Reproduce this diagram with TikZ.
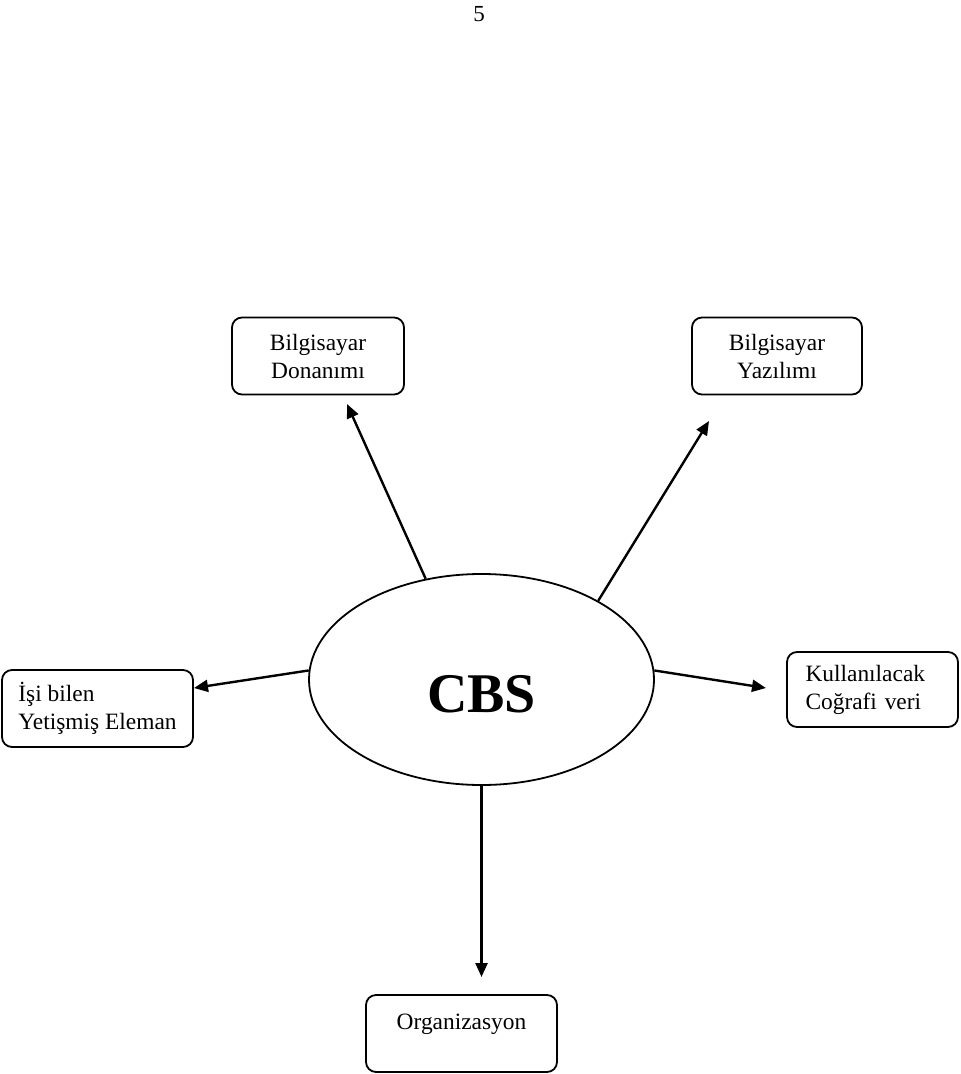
\documentclass[tikz,border=0pt]{standalone}
\usepackage{fontspec}
\setmainfont{Liberation Serif}
\usetikzlibrary{arrows.meta,shapes.geometric}

\begin{document}
\begin{tikzpicture}[x=0.5pt,y=-0.5pt,->,>={Triangle[length=7pt,width=6pt]},line width=1.2pt,
	base box/.style={draw,line width=0.9pt,rounded corners=5pt,minimum height=38.5pt,inner sep=0pt,
		font=\fontsize{11.7}{14}\selectfont,align=center},
	main node/.style={ellipse,draw,line width=0.9pt,minimum width=172.5pt,minimum height=105.5pt,
		inner sep=0pt,font=\fontsize{28}{30}\selectfont\bfseries,text height=33pt,text depth=0pt}]

	\useasboundingbox (0,0) rectangle (960,1074);

	\node[font=\fontsize{11.5}{13}\selectfont] (pnum) at (479,14) {5};

	\node[main node] (cbs) at (481.5,679.5) {CBS};
	\node[base box,minimum width=86pt] (don) at (318,356) {Bilgisayar\\Donanımı};
	\node[base box,minimum width=85pt] (yaz) at (777,356) {Bilgisayar\\Yazılımı};
	\node[base box,align=left,minimum width=95.5pt] (isi) at (97.5,708.5) {İşi bilen\\Yetişmiş Eleman};
	\node[base box,align=left,text width=67pt,inner xsep=9.25pt,minimum height=37.5pt] (kul) at (872.5,689.5) {Kullanılacak\\Coğrafi veri};
	\node[base box,minimum width=95.5pt,inner ysep=8pt,text height=9pt,text depth=13.5pt] (org) at (461.5,1033.5) {Organizasyon};

	% arrow tips stop short of the boxes
	\coordinate (tipD) at (347,404);
	\coordinate (tipY) at (709,421);
	\coordinate (tipI) at (194,688);
	\coordinate (tipK) at (766,688);
	\coordinate (tipO) at (481.5,977);

	\draw (cbs.119) -- (tipD);
	\draw (cbs.34) -- (tipY);
	\draw (cbs.177) -- (tipI);
	\draw (cbs.3) -- (tipK);
	\draw (cbs.270) -- (tipO);
\end{tikzpicture}
\end{document}
